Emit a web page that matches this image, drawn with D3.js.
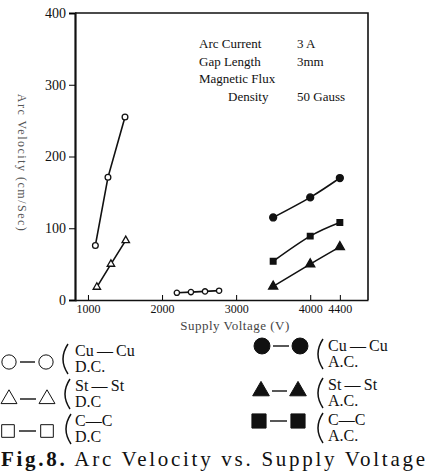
<!DOCTYPE html>
<html>
  <head>
    <title>Arc Velocity vs. Supply Voltage</title>
    <script src="https://d3js.org/d3.v7.min.js"></script>
    <style>
      body { margin: 0; background: #fff; }
      svg text { font-family: "Liberation Serif", "DejaVu Serif", serif; fill: #111; }
    </style>
  </head>
  <body>
    <svg id="chart" width="433" height="471"></svg>

    <script>
      // data
      var yTicks = [0, 100, 200, 300, 400];
      var xTicks = [1000, 2000, 3000, 4000, 4400];

      var dcCuVolt = [1100, 1270, 1500];
      var dcCuVel = [76, 171, 255];
      var dcStVolt = [1120, 1310, 1510];
      var dcStVel = [18, 50, 83];
      var dcCVolt = [2200, 2390, 2580, 2770];
      var dcCVel = [10, 11, 12, 13];

      var acVolt = [3500, 4000, 4400];
      var acCuVel = [115, 143, 170];
      var acStVel = [19, 50, 74];
      var acCVel = [54, 89, 108];

      var notes = [
        ["Arc Current", "3 A"],
        ["Gap Length", "3mm"],
        ["Magnetic  Flux", ""],
        ["Density", "50 Gauss"]
      ];

      var svg = d3.select("#chart");

      var x = d3.scaleLinear().domain([825, 4780]).range([75, 368]);
      var y = d3.scaleLinear().domain([0, 400]).range([300, 13]);

      // frame (top + right), axes left + bottom
      svg.append("path")
        .attr("d", "M" + x(825) + "," + y(400) + "H" + x(4780) + "V" + y(0))
        .attr("fill", "none").attr("stroke", "#111").attr("stroke-width", 1.6);

      var yAxis = svg.append("g")
        .attr("transform", "translate(" + x(825) + ",0)")
        .call(d3.axisLeft(y).tickValues(yTicks).tickSizeOuter(0).tickSize(6).tickPadding(3));
      yAxis.select(".domain").attr("stroke-width", 2.2).attr("stroke", "#111");
      yAxis.selectAll("text").style("font-size", "14px").style("font-family", "Liberation Serif");

      var xAxis = svg.append("g")
        .attr("transform", "translate(0," + y(0) + ")")
        .call(d3.axisBottom(x).tickValues(xTicks).tickSizeInner(-5).tickSizeOuter(0).tickPadding(4).tickFormat(d3.format("d")));
      xAxis.select(".domain").attr("stroke-width", 1.6).attr("stroke", "#111");
      xAxis.selectAll("text").style("font-size", "12px").style("font-family", "Liberation Serif");

      // axis titles
      svg.append("text")
        .attr("transform", "translate(18,163) rotate(90)")
        .attr("text-anchor", "middle")
        .style("font-size", "12px").style("fill", "#555").style("letter-spacing", "1.5px")
        .text("Arc  Velocity (cm/Sec)");

      svg.append("text")
        .attr("x", 235).attr("y", 330)
        .attr("text-anchor", "middle")
        .style("font-size", "13px").style("fill", "#444").style("letter-spacing", "0.5px")
        .text("Supply   Voltage (V)");

      // conditions
      var nt = svg.append("g").style("font-size", "13px");
      notes.forEach(function (n, i) {
        nt.append("text").attr("x", i == 3 ? 228 : 199).attr("y", 48 + i * 17.5).text(n[0]);
        nt.append("text").attr("x", 297).attr("y", 48 + i * 17.5).text(n[1]);
      });

      // series
      var series = [
        { v: dcCuVolt, s: dcCuVel, shape: d3.symbolCircle, fill: false, size: 26, curve: d3.curveLinear },
        { v: dcStVolt, s: dcStVel, shape: d3.symbolTriangle, fill: false, size: 24, curve: d3.curveLinear },
        { v: dcCVolt, s: dcCVel, shape: d3.symbolCircle, fill: false, size: 22, curve: d3.curveLinear },
        { v: acVolt, s: acCuVel, shape: d3.symbolCircle, fill: true, size: 38, curve: d3.curveNatural },
        { v: acVolt, s: acStVel, shape: d3.symbolTriangle, fill: true, size: 36, curve: d3.curveNatural },
        { v: acVolt, s: acCVel, shape: d3.symbolSquare, fill: true, size: 32, curve: d3.curveNatural }
      ];

      var line = d3.line().x(d => x(d[0])).y(d => y(d[1]));

      series.forEach(function (sr) {
        var pts = sr.v.map((v, i) => [v, sr.s[i]]);
        svg.append("path")
          .attr("d", line.curve(sr.curve)(pts))
          .attr("fill", "none").attr("stroke", "#111").attr("stroke-width", 1.6);
        svg.selectAll(null)
          .data(pts)
          .enter()
          .append("path")
          .attr("transform", d => "translate(" + x(d[0]) + "," + y(d[1]) + ")")
          .attr("d", d3.symbol().type(sr.shape).size(sr.size))
          .attr("fill", sr.fill ? "#111" : "#fff")
          .attr("stroke", "#111").attr("stroke-width", 1.3);
      });

      // legend: marker pair, bracket, two text lines
      var dash = "\u2009\u2014\u2009";
      var legend = [
        { x1: 9, x2: 46, my: 362, px: 60, tx: 75, ty: 356, shape: d3.symbolCircle, fill: false, size: 160, a: "Cu" + dash + "Cu", b: "D.C." },
        { x1: 9, x2: 47, my: 399, px: 62, tx: 75, ty: 391, shape: d3.symbolTriangle, fill: false, size: 110, a: "St" + dash + "St", b: "D.C" },
        { x1: 8, x2: 47, my: 431, px: 63, tx: 75, ty: 426, shape: d3.symbolSquare, fill: false, size: 160, a: "C\u2014C", b: "D.C" },
        { x1: 262, x2: 300, my: 346, px: 315, tx: 328, ty: 351, shape: d3.symbolCircle, fill: true, size: 200, a: "Cu" + dash + "Cu", b: "A.C." },
        { x1: 261, x2: 298, my: 391, px: 315, tx: 328, ty: 390, shape: d3.symbolTriangle, fill: true, size: 120, a: "St" + dash + "St", b: "A.C." },
        { x1: 259, x2: 298, my: 421, px: 315, tx: 328, ty: 425, shape: d3.symbolSquare, fill: true, size: 200, a: "C\u2014C", b: "A.C." }
      ];

      var lg = svg.append("g");
      legend.forEach(function (l) {
        lg.append("line")
          .attr("x1", l.x1 + 11).attr("x2", l.x2 - 11).attr("y1", l.my).attr("y2", l.my)
          .attr("stroke", "#111").attr("stroke-width", 1.4);
        [l.x1, l.x2].forEach(function (cx) {
          lg.append("path")
            .attr("transform", "translate(" + cx + "," + l.my + ")")
            .attr("d", d3.symbol().type(l.shape).size(l.size))
            .attr("fill", l.fill ? "#111" : "#fff")
            .attr("stroke", "#111").attr("stroke-width", 1);
        });
        // bracket spanning both text lines
        var top = l.ty - 12, bot = l.ty + 18;
        lg.append("path")
          .attr("d", "M" + (l.px + 8) + "," + top + "Q" + (l.px - 2) + "," + ((top + bot) / 2) + " " + (l.px + 8) + "," + bot)
          .attr("fill", "none").attr("stroke", "#111").attr("stroke-width", 1.5);
        lg.append("text").attr("x", l.tx).attr("y", l.ty)
          .style("font-size", "16px").text(l.a);
        lg.append("text").attr("x", l.tx).attr("y", l.ty + 16)
          .style("font-size", "16px").text(l.b);
      });

      // caption
      var cap = svg.append("text")
        .attr("x", 1).attr("y", 466)
        .attr("textLength", 424).attr("lengthAdjust", "spacing")
        .style("font-size", "21px");
      cap.append("tspan").style("font-weight", "bold").text("Fig.8.");
      cap.append("tspan").text(" Arc Velocity vs. Supply Voltage");
    </script>
  </body>
</html>
